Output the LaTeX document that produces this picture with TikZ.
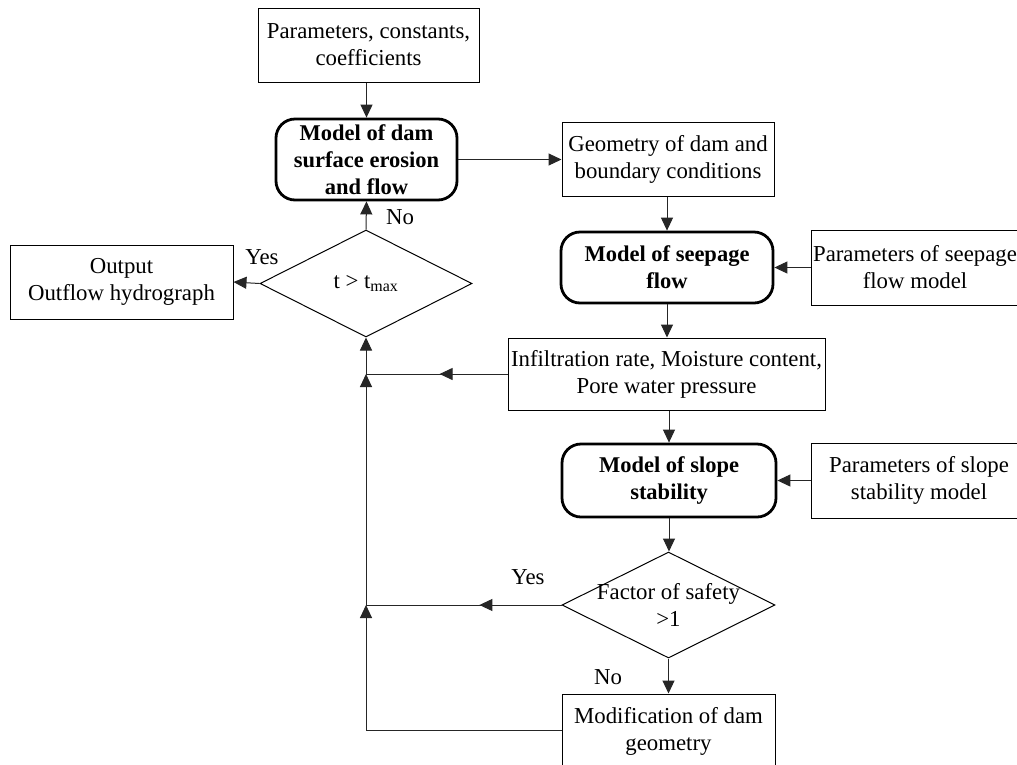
\documentclass[tikz,border=0pt]{standalone}
\usepackage{fontspec}
\setmainfont{Liberation Serif}
\usetikzlibrary{arrows.meta,shapes.geometric,decorations.markings}
\tikzset{
  base/.style={font=\fontsize{22.8}{27}\selectfont, align=center, inner sep=0pt, text=black},
  plainbox/.style={base, draw=black, line width=1pt, rectangle},
  modelbox/.style={base, draw=black, line width=2.8pt, rectangle, rounded corners=19pt, font=\fontsize{22.5}{27}\selectfont\bfseries},
  decision/.style={draw=black, line width=1pt, diamond, inner sep=0pt},
  dtext/.style={base},
  conn/.style={line width=1pt, draw=black!85},
  tip/.style={-{Triangle[length=13pt,width=12pt]}},
  midtip/.style={postaction={decorate}, decoration={markings, mark=at position #1 with {\arrow{Triangle[length=13pt,width=12pt]}}}},
  lbl/.style={font=\fontsize{22.8}{27}\selectfont, inner sep=0pt, text=black}
}
\begin{document}
\begin{tikzpicture}[x=1pt,y=-1pt]
\useasboundingbox (0,0) rectangle (1017,764);
\clip (0,0) rectangle (1017,764);
\fill[white] (0,0) rectangle (1017,764);

\node[plainbox, minimum width=221pt, minimum height=74pt] (p1) at (368.5,45) {Parameters, constants,\\coefficients};
\node[modelbox, minimum width=181pt, minimum height=81pt] (m1) at (366.5,159.5) {Model of dam\\surface erosion\\and flow};
\node[decision, minimum width=212pt, minimum height=107pt] (d1) at (366,283.5) {};
\node[dtext] (d1t) at (d1.center) {t > t\textsubscript{max}};
\node[plainbox, minimum width=223pt, minimum height=74pt] (out) at (121.5,282) {Output\\Outflow hydrograph};
\node[plainbox, minimum width=212pt, minimum height=74pt] (geo) at (668,159) {Geometry of dam and\\boundary conditions};
\node[modelbox, minimum width=212pt, minimum height=71pt] (m2) at (667,267.5) {Model of seepage\\flow};
\node[plainbox, minimum width=208pt, minimum height=75pt] (ps) at (915,267.5) {Parameters of seepage\\flow model};
\node[plainbox, minimum width=317pt, minimum height=72pt] (inf) at (666.5,374) {Infiltration rate, Moisture content,\\Pore water pressure};
\node[modelbox, minimum width=214pt, minimum height=73pt] (m3) at (669,480.5) {Model of slope\\stability};
\node[plainbox, minimum width=216pt, minimum height=75pt] (pss) at (919,480.5) {Parameters of slope\\stability model};
\node[decision, minimum width=213pt, minimum height=106pt] (d2) at (668.5,605) {};
\node[dtext] (d2t) at (d2.center) {Factor of safety\\>1};
\node[plainbox, minimum width=213pt, minimum height=74pt] (mod) at (668.5,731) {Modification of dam\\geometry};

\coordinate (j1) at (366,374);
\coordinate (j2) at (366,605);
\coordinate (j3) at (366,730);

\draw[conn,tip] (p1.south -| m1.north) -- (m1.north);
\draw[conn,tip] (d1.north) -- (m1.south);
\draw[conn,tip] (d1.west) -- (out.east);
\draw[conn,tip] (m1.east) -- (m1.east -| geo.west);
\draw[conn,tip] (geo.south -| m2.north) -- (m2.north);
\draw[conn,tip] (ps.west) -- (m2.east);
\draw[conn,tip] (m2.south) -- (m2.south |- inf.north);
\draw[conn,tip] (inf.south -| m3.north) -- (m3.north);
\draw[conn,tip] (pss.west) -- (m3.east);
\draw[conn,tip] (m3.south) -- (m3.south |- d2.north);
\draw[conn,tip] (d2.south) -- (d2.south |- mod.north);

\draw[conn,midtip=0.48] (inf.west) -- (j1);
\draw[conn,midtip=0.42] (d2.west) -- (j2);
\draw[conn,tip] (mod.west |- j3) -- (j3) -- (j2);
\draw[conn,tip] (j2) -- (j1);
\draw[conn,tip] (j1) -- (d1.south);

\node[lbl] (no1) at (400,217) {No};
\node[lbl] (yes1) at (262,257) {Yes};
\node[lbl] (yes2) at (528,577) {Yes};
\node[lbl] (no2) at (608,677) {No};
\end{tikzpicture}
\end{document}
